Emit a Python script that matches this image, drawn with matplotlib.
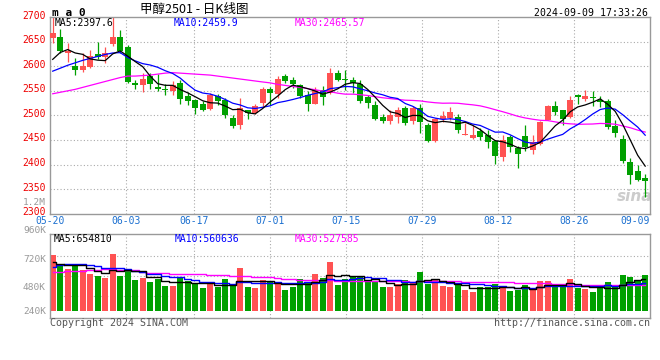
import numpy as np
import pandas as pd
import matplotlib
matplotlib.use("Agg")
import matplotlib.pyplot as plt
from matplotlib.transforms import blended_transform_factory, ScaledTranslation

# ---------------- data ----------------
date_labels = ['05-20', '06-03', '06-17', '07-01', '07-15', '07-29', '08-12', '08-26', '09-09']
date_idx = [0, 10, 19, 29, 39, 49, 59, 69, 79]

opens = [2657.5, 2660.2, 2626.2, 2600.4, 2593.0, 2599.0, 2624.9, 2619.4, 2645.3, 2658.9,
         2639.8, 2565.0, 2562.3, 2580.0, 2558.2, 2552.8, 2550.0, 2566.4, 2539.2, 2531.0,
         2522.2, 2513.4, 2538.5, 2531.0, 2495.7, 2480.7, 2510.6, 2505.2, 2525.6, 2554.2,
         2542.6, 2580.0, 2571.2, 2561.0, 2540.6, 2524.2, 2551.4, 2544.6, 2586.1, 2574.6,
         2571.8, 2563.7, 2537.2, 2520.8, 2496.4, 2488.2, 2496.4, 2514.7, 2488.2, 2514.7,
         2481.4, 2447.4, 2493.0, 2495.0, 2496.4, 2460.3, 2454.2, 2467.8, 2460.3, 2447.4,
         2415.4, 2455.6, 2433.8, 2457.6, 2429.0, 2442.6, 2490.2, 2518.8, 2510.6, 2497.0,
         2541.2, 2533.8, 2537.2, 2530.4, 2529.0, 2479.4, 2452.8, 2404.6, 2386.2, 2372.0]
highs = [2702.0, 2675.0, 2646.6, 2617.4, 2626.2, 2632.4, 2649.4, 2639.0, 2705.0, 2673.8,
         2642.6, 2573.0, 2585.4, 2586.8, 2583.4, 2563.0, 2569.0, 2573.0, 2547.4, 2532.4,
         2529.0, 2546.0, 2543.3, 2535.0, 2501.0, 2535.0, 2512.0, 2524.0, 2557.0, 2557.0,
         2580.0, 2583.4, 2578.0, 2563.0, 2549.4, 2557.6, 2559.6, 2597.0, 2591.6, 2592.3,
         2578.0, 2573.0, 2541.2, 2529.0, 2502.5, 2512.0, 2517.4, 2518.8, 2518.8, 2522.2,
         2484.8, 2495.0, 2508.0, 2517.4, 2502.5, 2484.8, 2481.4, 2474.6, 2469.8, 2450.8,
         2459.6, 2461.0, 2437.0, 2481.4, 2459.6, 2489.6, 2520.2, 2529.0, 2512.0, 2539.2,
         2543.3, 2551.4, 2549.4, 2539.2, 2532.4, 2491.6, 2461.0, 2413.4, 2399.8, 2381.4]
lows = [2646.6, 2626.0, 2609.0, 2582.0, 2589.0, 2597.0, 2614.0, 2607.0, 2641.0, 2627.6,
        2566.4, 2554.0, 2548.0, 2554.0, 2549.4, 2542.0, 2542.0, 2522.8, 2522.0, 2503.0,
        2508.6, 2511.0, 2520.2, 2495.0, 2474.0, 2472.6, 2493.0, 2503.8, 2517.4, 2521.5,
        2535.8, 2566.4, 2555.0, 2535.8, 2508.6, 2522.2, 2520.2, 2542.6, 2569.0, 2551.4,
        2544.6, 2525.6, 2515.4, 2490.2, 2484.8, 2482.8, 2484.8, 2480.0, 2483.4, 2464.4,
        2445.4, 2446.0, 2486.2, 2491.6, 2464.4, 2459.6, 2452.2, 2450.0, 2433.8, 2401.2,
        2407.3, 2425.6, 2393.0, 2428.4, 2422.2, 2440.6, 2490.2, 2501.8, 2481.4, 2495.7,
        2522.2, 2528.3, 2518.8, 2517.4, 2473.2, 2456.2, 2403.2, 2360.4, 2365.8, 2333.0]
closes = [2667.0, 2631.0, 2631.0, 2591.6, 2600.4, 2620.8, 2618.1, 2626.2, 2660.2, 2631.0,
          2567.8, 2562.3, 2574.6, 2563.7, 2554.2, 2551.4, 2561.6, 2532.4, 2529.7, 2514.7,
          2510.6, 2541.2, 2529.0, 2499.8, 2478.0, 2514.7, 2504.5, 2518.8, 2554.2, 2544.6,
          2574.6, 2569.8, 2564.4, 2539.2, 2524.2, 2550.8, 2537.2, 2586.1, 2571.8, 2571.2,
          2566.4, 2529.0, 2525.6, 2493.0, 2488.2, 2500.4, 2512.0, 2484.8, 2514.7, 2486.2,
          2447.4, 2493.0, 2498.4, 2506.6, 2470.5, 2462.4, 2460.3, 2456.2, 2446.0, 2418.2,
          2450.8, 2435.8, 2421.6, 2435.8, 2445.4, 2487.5, 2518.8, 2506.6, 2493.0, 2531.0,
          2536.5, 2539.2, 2534.4, 2527.0, 2476.0, 2464.4, 2406.6, 2378.0, 2369.2, 2365.8]

# volumes (thousands), read against the printed volume axis
volumes_k = [755, 680, 640, 669, 629, 595, 581, 564, 764, 581,
             640, 545, 564, 530, 551, 497, 494, 573, 536, 509,
             480, 509, 483, 553, 509, 646, 488, 480, 545, 536,
             530, 461, 488, 553, 530, 595, 564, 699, 503, 553,
             568, 578, 525, 525, 486, 486, 509, 545, 528, 612,
             514, 553, 494, 486, 509, 461, 444, 486, 486, 514,
             486, 452, 461, 503, 461, 536, 536, 497, 486, 553,
             480, 469, 444, 480, 528, 486, 587, 570, 545, 587]

# moving-average values before enough in-window history
ma5_head = [2614, 2628, 2634, 2627]
ma10_head = [2590, 2596, 2602, 2607, 2612, 2616, 2620, 2624, 2627]
ma30_head = [2544, 2547, 2550, 2553, 2557, 2561, 2565, 2569, 2573, 2577,
             2580, 2580, 2581, 2582, 2584, 2586, 2587, 2586, 2585, 2584,
             2583, 2582, 2580, 2578, 2576, 2574, 2572, 2570, 2568]
vma5_head = [699, 680, 674, 672]
vma10_head = [657, 672, 676, 676, 676, 670, 660, 650, 645]
vma30_head = [612, 614, 617, 620, 623, 627, 631, 636, 636, 633,
              630, 625, 615, 606, 603, 601, 599, 597, 596, 595,
              592, 589, 586, 583, 581, 578, 575, 572, 568]

price_ticks = [2300, 2350, 2400, 2450, 2500, 2550, 2600, 2650, 2700]
vol_tick_vals = [240e3, 480e3, 720e3, 960e3, 1200e3]
vol_tick_labels = ['240K', '480K', '720K', '960K', '1.2M']

title_text = '甲醇2501 - 日K线图'
time_text = '2024-09-09 17:33:26'
ma_price_text = ['MA5:2397.6', 'MA10:2459.9', 'MA30:2465.57']
ma_vol_text = ['MA5:654810', 'MA10:560636', 'MA30:527585']

# ---------------- helpers ----------------
def moving(values, n, head):
    s = pd.Series(values, dtype=float).rolling(n).mean().to_numpy()
    s[:len(head)] = head
    return s

o = np.array(opens); h = np.array(highs); l = np.array(lows); c = np.array(closes)
vol = np.array(volumes_k, dtype=float) * 1000
x = np.arange(len(c))
up = c >= o

RED = '#ff5252'
GREEN = '#00a000'
GRID = '#aaaaaa'
BORDER = '#999999'
MONO = 'DejaVu Sans Mono'
CJK = ['Noto Sans CJK SC', 'DejaVu Sans']

W, H = 660, 360
fig = plt.figure(figsize=(W / 100, H / 100), dpi=100)
fig.patch.set_facecolor('white')

def rect(lft, top, rgt, bot):
    return [lft / W, 1 - bot / H, (rgt - lft) / W, (bot - top) / H]

def ftext(px, py, s, **kw):
    fig.text(px / W, 1 - py / H, s, **kw)

axp = fig.add_axes(rect(50, 17.1, 650, 213.7))
axv = fig.add_axes(rect(50, 234.3, 650, 318))

XL = (-0.36, 79.64)
gx = [min(k * 7.6 / 7.5 - 0.36, XL[1]) for k in date_idx]
dot = (0, (1, 2))

# ---------------- price panel ----------------
axp.set_xlim(*XL)
axp.set_ylim(2300, 2700)
for yv in price_ticks[1:-1]:
    axp.axhline(yv, color=GRID, lw=0.8, ls=dot, zorder=0)
for g in gx[1:-1]:
    axp.axvline(g, color=GRID, lw=0.8, ls=dot, zorder=0)

colors = np.where(up, RED, GREEN)
axp.vlines(x, l, h, colors=colors, lw=0.9, zorder=2)
body = np.maximum(np.abs(c - o), 1.5)
axp.bar(x, body, bottom=np.minimum(o, c), width=0.8, color=colors, lw=0, zorder=3)

ma5 = moving(c, 5, ma5_head)
ma10 = moving(c, 10, ma10_head)
ma30 = moving(c, 30, ma30_head)
axp.plot(x, ma30, color='#ff00ff', lw=0.9, zorder=4)
axp.plot(x, ma10, color='#0000ff', lw=0.9, zorder=4)
axp.plot(x, ma5, color='black', lw=0.9, zorder=4)

axp.set_yticks(price_ticks)
axp.set_yticklabels([str(t) for t in price_ticks], fontfamily=MONO, fontsize=7, color='#ee0000')
axp.set_xticks(gx)
axp.set_xticklabels(date_labels, fontfamily=MONO, fontsize=7, color='#1a6fd0')
axp.tick_params(axis='y', length=0, pad=3)
axp.tick_params(axis='x', length=0, pad=1.5)
shift_up = ScaledTranslation(0, 2.5 / 100, fig.dpi_scale_trans)
for lab in axp.get_yticklabels():
    lab.set_transform(lab.get_transform() + shift_up)
xt = axp.get_xticklabels()
xt[-1].set_ha('right')
for sp in axp.spines.values():
    sp.set_color(BORDER); sp.set_linewidth(1)

axp.text(0.975, 0.085, 'sina', transform=axp.transAxes, fontsize=11, fontweight='bold',
         style='italic', color='#cccccc', ha='center', va='center', zorder=1)

# ---------------- volume panel ----------------
vol_floor = 284e3
axv.set_xlim(*XL)
axv.set_ylim(224.8e3, 929.7e3)
tr = blended_transform_factory(axv.transAxes, axv.transAxes)
for fy in [0.266, 0.505, 0.744]:
    axv.plot([0, 1], [fy, fy], color=GRID, lw=0.8, ls=dot, transform=tr, zorder=0)
for g in gx[1:-1]:
    axv.axvline(g, color=GRID, lw=0.8, ls=dot, zorder=0)

axv.bar(x, vol - vol_floor, bottom=vol_floor, width=0.8, color=colors, lw=0, zorder=2)
vma5 = moving(vol / 1000, 5, vma5_head) * 1000
vma10 = moving(vol / 1000, 10, vma10_head) * 1000
vma30 = moving(vol / 1000, 30, vma30_head) * 1000
axv.plot(x, vma30, color='#ff00ff', lw=1.0, drawstyle='steps-mid', zorder=3)
axv.plot(x, vma10, color='#0000ff', lw=1.0, drawstyle='steps-mid', zorder=3)
axv.plot(x, vma5, color='black', lw=1.0, drawstyle='steps-mid', zorder=3)

axv.set_xticks([]); axv.set_yticks([])
for sp in axv.spines.values():
    sp.set_color(BORDER); sp.set_linewidth(1)

trl = blended_transform_factory(axv.transAxes, axv.transData)
for v, s in zip(vol_tick_vals, vol_tick_labels):
    axv.text(-0.0067, v, s, transform=trl, ha='right',
             va='bottom' if v == vol_tick_vals[0] else 'center',
             fontfamily=MONO, fontsize=6.8, color='#999999', clip_on=False)

# ---------------- header / footer texts ----------------
ftext(52, 12.5, 'm a 0', fontfamily=MONO, fontweight='bold', fontsize=8, va='center')
ftext(140, 9.2, title_text, family=CJK, fontsize=9, va='center')
ftext(648, 12.5, time_text, fontfamily=MONO, fontsize=7.1, ha='right', va='center')
for px, s, col in zip([55, 174, 295], ma_price_text, ['black', '#0000ff', '#ff00ff']):
    ftext(px, 23.3, s, fontfamily=MONO, fontsize=7, color=col, va='center')
for px, s, col in zip([54, 175, 295], ma_vol_text, ['black', '#0000ff', '#ff00ff']):
    ftext(px, 239.5, s, fontfamily=MONO, fontsize=7, color=col, va='center')
ftext(50, 323.5, 'Copyright 2024 SINA.COM', fontfamily=MONO, fontsize=7.2, color='#555555', va='center')
ftext(650, 323.5, 'http://finance.sina.com.cn', fontfamily=MONO, fontsize=7.2, color='#555555',
      ha='right', va='center')

fig.savefig('out.png', dpi=100, facecolor='white')
